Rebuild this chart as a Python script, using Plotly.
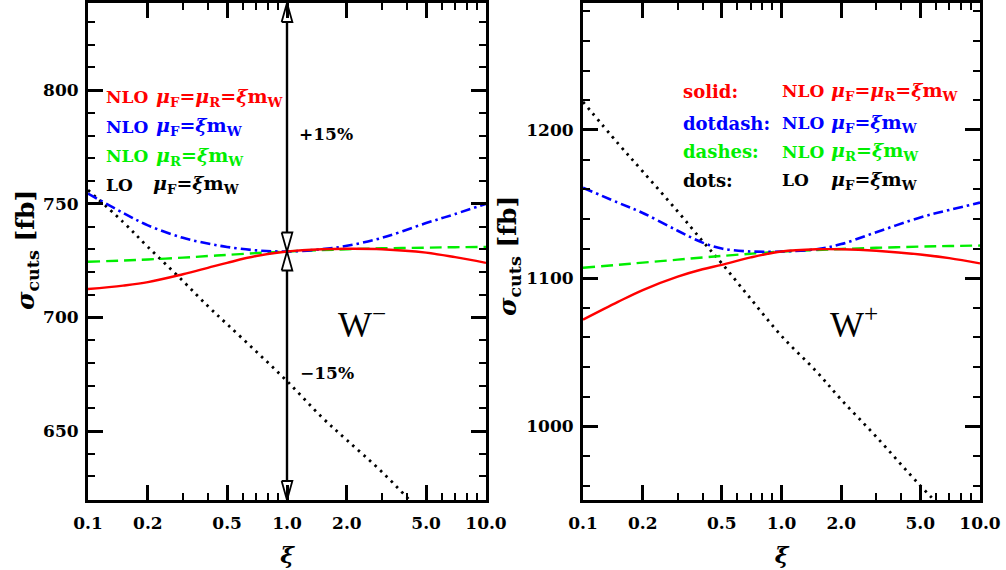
import plotly.graph_objects as go

# ---------------- data ----------------
xi = [0.1, 0.15, 0.2, 0.3, 0.4, 0.5, 0.7, 1.0, 1.5, 2.0, 3.0, 5.0, 7.0, 10.0]

# W- panel (fb)
wm_nlo_both = [712.5, 714.0, 715.5, 719.0, 721.8, 724.0, 727.0, 729.0, 730.0, 730.2, 730.0, 728.5, 726.5, 724.0]
wm_nlo_muF = [754.5, 746.0, 740.5, 735.0, 732.5, 731.0, 729.5, 729.0, 730.0, 731.5, 735.0, 741.5, 745.5, 750.0]
wm_nlo_muR = [724.5, 725.0, 725.5, 726.3, 727.0, 727.5, 728.3, 729.0, 729.6, 730.0, 730.4, 730.7, 730.9, 731.0]
wm_lo_muF = [756.0, 742.0, 731.0, 716.0, 705.0, 697.0, 685.0, 672.0, 656.0, 646.0, 632.0, 612.0, 599.0, 586.0]
wm_central = 729.0

# W+ panel (fb)
wp_nlo_both = [1072, 1084, 1092, 1101, 1106, 1109, 1114, 1118, 1119.5, 1119.5, 1118.5, 1116, 1113.5, 1110]
wp_nlo_muF = [1161, 1151, 1144, 1132, 1124, 1120, 1118, 1118, 1119.5, 1123, 1131, 1141, 1146, 1151]
wp_nlo_muR = [1107, 1109, 1110.5, 1112.5, 1114, 1115, 1116.5, 1118, 1119, 1119.7, 1120.5, 1121.3, 1121.7, 1122]
wp_lo_muF = [1219, 1191, 1172, 1145, 1125, 1110, 1086, 1061, 1037, 1018, 993, 960, 940, 920]
wp_central = 1118.0

band = 0.15  # +-15 %

x_tickvals = [0.1, 0.2, 0.5, 1.0, 2.0, 5.0, 10.0]
x_ticktext = ["0.1", "0.2", "0.5", "1.0", "2.0", "5.0", "10.0"]
x_minor = [0.3, 0.4, 0.6, 0.7, 0.8, 0.9, 3, 4, 6, 7, 8, 9]

# ---------------- style ----------------
W, H = 1006, 570
ML, MR, MT, MB = 88, 26, 3, 70
plot_h = H - MT - MB
FONT = "DejaVu Serif"
RED, BLUE, GREEN, BLACK = "#ff0000", "#0000ff", "#00ee00", "#000000"

fig = go.Figure()

def add_curves(xa, ya, both, muF, muR, lo):
    fig.add_trace(go.Scatter(x=xi, y=lo, mode="lines", xaxis=xa, yaxis=ya,
                             line=dict(color=BLACK, width=2.8, dash="2.5px,5px", shape="spline")))
    fig.add_trace(go.Scatter(x=xi, y=muR, mode="lines", xaxis=xa, yaxis=ya,
                             line=dict(color=GREEN, width=2.4, dash="12px,6px", shape="spline")))
    fig.add_trace(go.Scatter(x=xi, y=muF, mode="lines", xaxis=xa, yaxis=ya,
                             line=dict(color=BLUE, width=2.6, dash="10px,4px,2.5px,4px", shape="spline")))
    fig.add_trace(go.Scatter(x=xi, y=both, mode="lines", xaxis=xa, yaxis=ya,
                             line=dict(color=RED, width=2.4, shape="spline")))

add_curves("x", "y", wm_nlo_both, wm_nlo_muF, wm_nlo_muR, wm_lo_muF)
add_curves("x2", "y2", wp_nlo_both, wp_nlo_muF, wp_nlo_muR, wp_lo_muF)

# ---- +-15% double arrows on W- panel ----
lo_edge = wm_central * (1 - band)
hi_edge = wm_central * (1 + band)
units_per_px = (hi_edge - lo_edge) / plot_h
ah = 19 * units_per_px          # arrowhead length (data units)
hw = 0.027                      # arrowhead half-width (decades)

for y0, y1 in [(wm_central + ah, hi_edge - ah), (lo_edge + ah, wm_central - ah)]:
    fig.add_trace(go.Scatter(x=[1.0, 1.0], y=[y0, y1], mode="lines", xaxis="x", yaxis="y",
                             line=dict(color=BLACK, width=2.4)))

def head(tip, direction):
    base = tip - direction * ah
    fig.add_trace(go.Scatter(x=[10 ** -hw, 1.0, 10 ** hw, 10 ** -hw], y=[base, tip, base, base],
                             mode="lines", fill="toself", fillcolor="white", xaxis="x", yaxis="y",
                             line=dict(color=BLACK, width=1.8)))

head(hi_edge, 1)
head(wm_central, -1)
head(wm_central, 1)
head(lo_edge, -1)

# ---------------- axes ----------------
tickfont = dict(family=FONT, size=17, color="black", weight="bold")

def xaxis_cfg(domain, anchor):
    return dict(type="log", range=[-1, 1], domain=domain, anchor=anchor, automargin=False,
                showline=True, linewidth=3, linecolor="black", mirror="ticks",
                ticks="inside", ticklen=15, tickwidth=2.5, tickcolor="black",
                tickvals=x_tickvals, ticktext=x_ticktext, tickfont=tickfont,
                ticklabelstandoff=6,
                minor=dict(ticks="inside", ticklen=7, tickwidth=2, tickcolor="black",
                           tickvals=x_minor, showgrid=False),
                showgrid=False, zeroline=False,
                title=dict(text="<b><i>ξ</i></b>", font=dict(family=FONT, size=23, color="black")))

def yaxis_cfg(central, major, minor, anchor):
    return dict(range=[central * (1 - band), central * (1 + band)], anchor=anchor, automargin=False,
                showline=True, linewidth=3, linecolor="black", mirror="ticks",
                ticks="inside", ticklen=15, tickwidth=2.5, tickcolor="black",
                tick0=0, dtick=major, tickfont=tickfont, ticklabelstandoff=3,
                minor=dict(ticks="inside", ticklen=7, tickwidth=2, tickcolor="black",
                           tick0=0, dtick=minor, showgrid=False),
                showgrid=False, zeroline=False)

dom_w = W - ML - MR
left_dom = [0, (486 - ML) / dom_w]
right_dom = [(583 - ML) / dom_w, 1]

fig.update_layout(
    width=W, height=H, margin=dict(l=ML, r=MR, t=MT, b=MB, autoexpand=False),
    paper_bgcolor="white", plot_bgcolor="white", showlegend=False,
    xaxis=xaxis_cfg(left_dom, "y"),
    xaxis2=xaxis_cfg(right_dom, "y2"),
    yaxis=yaxis_cfg(wm_central, 50, 10, "x"),
    yaxis2=yaxis_cfg(wp_central, 100, 20, "x2"),
)

# ---------------- text ----------------
def txt(text, x, y, xref, yref, color="black", size=18, xanchor="left", family=FONT, angle=0):
    fig.add_annotation(text=text, x=x, y=y, xref=xref, yref=yref, showarrow=False,
                       xanchor=xanchor, yanchor="middle", textangle=angle,
                       font=dict(family=family, size=size, color=color))

lw = (486 - ML)
rw = (980 - 583)
def lx(px): return (px - ML) / lw
def rx(px): return (px - 583) / rw
def py(p): return (500 - p) / plot_h

ytitle = "<b><i>σ</i><sub>cuts</sub> [fb]</b>"
txt(ytitle, lx(27), py(250), "x domain", "y domain", size=25, xanchor="center", angle=-90)
txt(ytitle, rx(509), py(256), "x2 domain", "y2 domain", size=25, xanchor="center", angle=-90)

f_both = "<b><i>μ</i><sub>F</sub>=<i>μ</i><sub>R</sub>=<i>ξ</i>m<sub>W</sub></b>"
f_F = "<b><i>μ</i><sub>F</sub>=<i>ξ</i>m<sub>W</sub></b>"
f_R = "<b><i>μ</i><sub>R</sub>=<i>ξ</i>m<sub>W</sub></b>"

# left legend
rows_l = [97, 127, 156, 185]
for (lab, form, col, fx), yy in zip([("NLO", f_both, RED, 154), ("NLO", f_F, BLUE, 154),
                                     ("NLO", f_R, GREEN, 154), ("LO", f_F, BLACK, 151)], rows_l):
    txt("<b>" + lab + "</b>", lx(104), py(yy), "x domain", "y domain", col, size=17)
    txt(form, lx(fx), py(yy), "x domain", "y domain", col, size=19)

# right legend
rows_r = [91, 123, 152, 180]
for (k, lab, form, col), yy in zip([("solid:", "NLO", f_both, RED), ("dotdash:", "NLO", f_F, BLUE),
                                    ("dashes:", "NLO", f_R, GREEN), ("dots:", "LO", f_F, BLACK)], rows_r):
    txt("<b>" + k + "</b>", rx(681), py(yy), "x2 domain", "y2 domain", col, size=18)
    txt("<b>" + lab + "</b>", rx(780), py(yy), "x2 domain", "y2 domain", col, size=17)
    txt(form, rx(829), py(yy), "x2 domain", "y2 domain", col, size=19)

txt("<b>+15%</b>", lx(297), py(134), "x domain", "y domain", size=17)
txt("<b>−15%</b>", lx(298), py(373), "x domain", "y domain", size=17)
txt("W<sup>−</sup>", lx(336), py(322), "x domain", "y domain", size=36, family="Liberation Serif")
txt("W<sup>+</sup>", rx(828), py(322), "x2 domain", "y2 domain", size=36, family="Liberation Serif")

fig.write_html("out.html", config={"displayModeBar": False},
               post_script="document.body.style.margin='0px';document.body.style.overflow='hidden';")
